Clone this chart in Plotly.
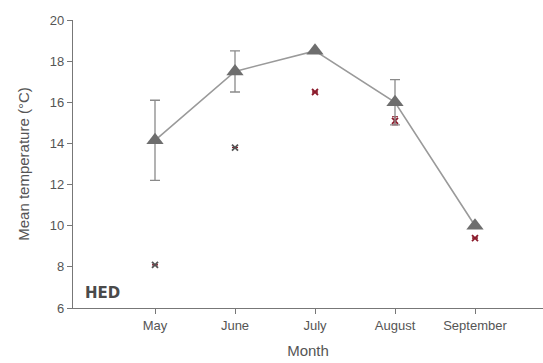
import plotly.graph_objects as go

months = ["May", "June", "July", "August", "September"]
mean_temp = [14.15, 17.5, 18.5, 16.0, 10.0]
mean_err = [1.95, 1.0, 0.0, 1.1, 0.0]
other_temp = [8.1, 13.8, 16.5, 15.1, 9.4]
other_err = [0.0, 0.0, 0.0, 0.2, 0.0]
other_colors = ["#555555", "#555555", "#8b1a2b", "#8b1a2b", "#8b1a2b"]

xs = list(range(len(months)))

fig = go.Figure()

fig.add_trace(go.Scatter(
    x=xs, y=other_temp, mode="markers",
    marker=dict(symbol="x-thin", size=6, color=other_colors,
                line=dict(width=1.8, color=other_colors)),
    error_y=dict(type="data", array=other_err, visible=True,
                 color="#8b1a2b", thickness=1, width=3),
    showlegend=False,
))

fig.add_trace(go.Scatter(
    x=xs, y=mean_temp, mode="lines+markers",
    line=dict(color="#9a9a9a", width=1.6),
    marker=dict(symbol="triangle-up", size=15, color="#6e6e6e"),
    error_y=dict(type="data", array=mean_err, visible=True,
                 color="#8a8a8a", thickness=1.3, width=5),
    showlegend=False,
))

fig.add_annotation(
    x=0.022, y=0.052, xref="paper", yref="paper",
    text="<b>HED</b>", showarrow=False, xanchor="left", yanchor="middle",
    font=dict(family="DejaVu Sans", size=15, color="#4a4a4a"),
)

axis_font = dict(family="Liberation Sans, Arial", size=13, color="#555555")

fig.update_layout(
    width=543, height=363,
    margin=dict(l=73, r=0, t=20, b=55),
    paper_bgcolor="white", plot_bgcolor="white",
    font=axis_font,
    xaxis=dict(
        range=[-1.025, 4.85], tickmode="array", tickvals=xs, ticktext=months,
        showline=True, linecolor="#777777", linewidth=1.2,
        ticks="outside", ticklen=5, tickcolor="#777777",
        showgrid=False, zeroline=False,
        title=dict(text="Month", font=dict(size=15, color="#555555"), standoff=13),
    ),
    yaxis=dict(
        range=[6, 20], dtick=2,
        showline=True, linecolor="#777777", linewidth=1.2,
        ticks="outside", ticklen=5, tickcolor="#777777",
        showgrid=False, zeroline=False,
        title=dict(text="Mean temperature (°C)", font=dict(size=15, color="#555555"), standoff=16),
    ),
)

fig.write_html("out.html")
